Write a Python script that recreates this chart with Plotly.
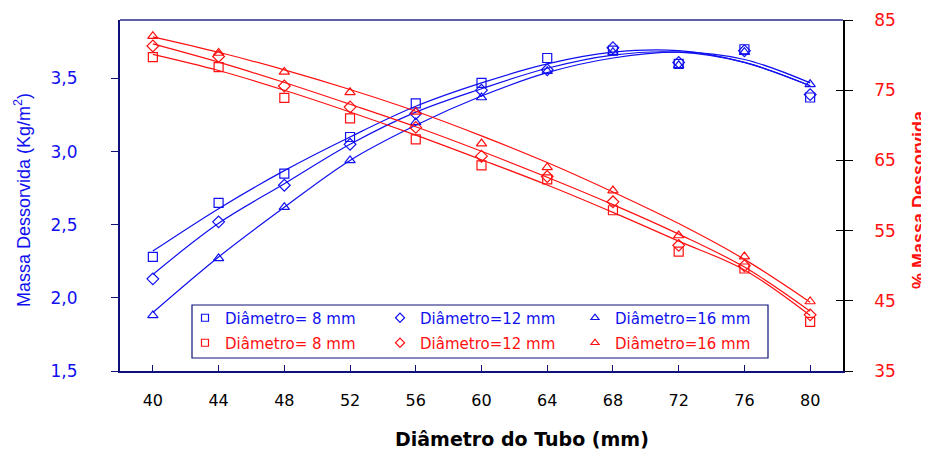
import plotly.graph_objects as go

# ---- data ----
diametro_tubo = [40, 44, 48, 52, 56, 60, 64, 68, 72, 76, 80]

# left axis: Massa Dessorvida (Kg/m2)
massa_8 = [2.28, 2.65, 2.85, 3.10, 3.33, 3.47, 3.64, 3.69, 3.60, 3.70, 3.37]
massa_12 = [2.13, 2.52, 2.77, 3.05, 3.26, 3.42, 3.56, 3.71, 3.61, 3.69, 3.39]
massa_16 = [1.88, 2.27, 2.62, 2.94, 3.20, 3.37, 3.55, 3.68, 3.59, 3.68, 3.46]
# fitted curves
ajuste_massa_8 = [2.32, 2.61, 2.87, 3.10, 3.31, 3.47, 3.60, 3.68, 3.69, 3.61, 3.45]
ajuste_massa_12 = [2.16, 2.51, 2.78, 3.05, 3.27, 3.43, 3.57, 3.66, 3.68, 3.61, 3.45]
ajuste_massa_16 = [1.90, 2.28, 2.62, 2.94, 3.18, 3.38, 3.54, 3.64, 3.68, 3.63, 3.47]

# right axis: % Massa Dessorvida
pct_8 = [79.7, 78.3, 73.9, 71.0, 68.0, 64.3, 62.3, 57.9, 52.0, 49.6, 42.0]
pct_12 = [81.3, 79.8, 75.6, 72.6, 69.7, 65.6, 62.7, 59.1, 52.9, 50.0, 43.0]
pct_16 = [82.7, 80.3, 77.6, 74.7, 71.9, 67.4, 64.0, 60.7, 54.3, 51.3, 44.9]
ajuste_pct_8 = [80.1, 77.8, 75.0, 71.9, 68.6, 65.1, 61.5, 57.6, 53.5, 49.4, 42.9]
ajuste_pct_12 = [81.6, 79.0, 76.1, 73.0, 69.8, 66.3, 62.6, 58.7, 54.5, 49.8, 43.5]
ajuste_pct_16 = [82.6, 80.4, 77.9, 75.1, 72.0, 68.5, 64.7, 60.5, 56.0, 50.9, 44.8]

nomes = ["Diâmetro= 8 mm", "Diâmetro=12 mm", "Diâmetro=16 mm"]
simbolos = ["square-open", "diamond-open", "triangle-up-open"]

x_ticks = [40, 44, 48, 52, 56, 60, 64, 68, 72, 76, 80]
y1_ticks = [1.5, 2.0, 2.5, 3.0, 3.5]
y2_ticks = [35, 45, 55, 65, 75, 85]

AZUL = "#1010F0"
VERMELHO = "#FF1010"
NAVY = "#10107A"

fig = go.Figure()

blue_sets = [(massa_8, ajuste_massa_8), (massa_12, ajuste_massa_12), (massa_16, ajuste_massa_16)]
red_sets = [(pct_8, ajuste_pct_8), (pct_12, ajuste_pct_12), (pct_16, ajuste_pct_16)]

for (pts, fit), sym in zip(blue_sets, simbolos):
    fig.add_trace(go.Scatter(x=diametro_tubo, y=fit, mode="lines", yaxis="y",
                             line=dict(color=AZUL, width=1.2, shape="spline"),
                             showlegend=False, hoverinfo="skip"))
    fig.add_trace(go.Scatter(x=diametro_tubo, y=pts, mode="markers", yaxis="y",
                             marker=dict(symbol=sym, size=9, color=AZUL, line=dict(width=1.2, color=AZUL)),
                             showlegend=False))
for (pts, fit), sym in zip(red_sets, simbolos):
    fig.add_trace(go.Scatter(x=diametro_tubo, y=fit, mode="lines", yaxis="y2",
                             line=dict(color=VERMELHO, width=1.2, shape="spline"),
                             showlegend=False, hoverinfo="skip"))
    fig.add_trace(go.Scatter(x=diametro_tubo, y=pts, mode="markers", yaxis="y2",
                             marker=dict(symbol=sym, size=9, color=VERMELHO, line=dict(width=1.2, color=VERMELHO)),
                             showlegend=False))

# legend-only entries
for nome, sym in zip(nomes, simbolos):
    fig.add_trace(go.Scatter(x=[None], y=[None], mode="markers", name=nome, legend="legend",
                             marker=dict(symbol=sym, size=7, color=AZUL, line=dict(width=1.2, color=AZUL))))
for nome, sym in zip(nomes, simbolos):
    fig.add_trace(go.Scatter(x=[None], y=[None], mode="markers", name=nome, legend="legend2", yaxis="y2",
                             marker=dict(symbol=sym, size=7, color=VERMELHO, line=dict(width=1.2, color=VERMELHO))))

# the page puts the figure 8 px in from the top-left corner of the window
OFF = 8
W, H = 929 - OFF, 452 - OFF
L, T = 120 - OFF, 20 - OFF
R, B = W - (843 - OFF), H - (371 - OFF)
PW = W - L - R
PH = H - T - B


def px(xv):  # window x -> paper x
    return (xv - OFF - L) / PW


def py(yv):  # window y -> paper y
    return ((H - B) - (yv - OFF)) / PH


leg_common = dict(orientation="h", xanchor="left", yanchor="middle", x=px(185),
                  bgcolor="rgba(0,0,0,0)", borderwidth=0,
                  entrywidthmode="pixels", entrywidth=150, itemwidth=30)

fig.update_layout(
    width=W, height=H,
    margin=dict(l=L, r=R, t=T, b=B, autoexpand=False),
    paper_bgcolor="white", plot_bgcolor="white",
    separators=",.",
    font=dict(family="DejaVu Sans", size=16, color="black"),
    xaxis=dict(range=[38, 82], tickvals=x_ticks, ticks="inside", ticklen=6, tickcolor=NAVY,
               showline=True, linecolor=NAVY, linewidth=2, showgrid=False, zeroline=False, automargin=False,
               tickfont=dict(family="DejaVu Sans", size=16, color="black"), ticklabelstandoff=14),
    yaxis=dict(range=[1.5, 3.9], tickvals=y1_ticks, tickformat=".1f", ticks="outside", ticklen=7,
               tickcolor=NAVY, showline=True, linecolor=NAVY, linewidth=2, showgrid=False, zeroline=False,
               automargin=False,
               tickfont=dict(family="DejaVu Sans", size=17, color=AZUL), ticklabelstandoff=30),
    yaxis2=dict(range=[35, 85], tickvals=y2_ticks, overlaying="y", side="right", ticks="outside", ticklen=8,
                tickcolor="black", showline=True, linecolor="black", linewidth=1.5, showgrid=False, zeroline=False,
                automargin=False,
                tickfont=dict(family="DejaVu Sans", size=17, color=VERMELHO), ticklabelstandoff=18),
    yaxis3=dict(range=[35, 85], tickvals=y2_ticks, overlaying="y", side="right", ticks="inside", ticklen=7,
                tickcolor="black", showticklabels=False, showline=False, showgrid=False, zeroline=False,
                automargin=False),
    legend=dict(**leg_common, y=py(318), font=dict(family="DejaVu Sans", size=15, color=AZUL)),
    legend2=dict(**leg_common, y=py(343), font=dict(family="DejaVu Sans", size=15, color=VERMELHO)),
    shapes=[
        dict(type="rect", xref="paper", yref="paper", x0=px(192), x1=px(768), y0=py(358), y1=py(305),
             line=dict(color=NAVY, width=1.2), fillcolor="rgba(0,0,0,0)", layer="above"),
        dict(type="line", xref="paper", yref="paper", x0=0, x1=1, y0=1, y1=1,
             line=dict(color="#6060A8", width=2)),
    ],
    annotations=[
        dict(text="<b>Diâmetro do Tubo (mm)</b>", xref="paper", yref="paper",
             x=px(522), y=py(439),
             xanchor="center", yanchor="middle", showarrow=False,
             font=dict(family="DejaVu Sans", size=19, color="black")),
        dict(text="Massa Dessorvida (Kg/m<sup>2</sup>)", xref="paper", yref="paper",
             x=px(23), y=py(200), textangle=-90,
             xanchor="center", yanchor="middle", showarrow=False,
             font=dict(family="Liberation Sans", size=18, color=AZUL)),
        dict(text="<b>% Massa Dessorvida</b>", xref="paper", yref="paper",
             x=px(919), y=py(200), textangle=-90,
             xanchor="center", yanchor="middle", showarrow=False,
             font=dict(family="Liberation Sans", size=18, color=VERMELHO)),
    ],
)

# empty trace so the extra right-hand tick axis is drawn
fig.add_trace(go.Scatter(x=[None], y=[None], yaxis="y3", showlegend=False, hoverinfo="skip"))

fig.write_html("out.html")
